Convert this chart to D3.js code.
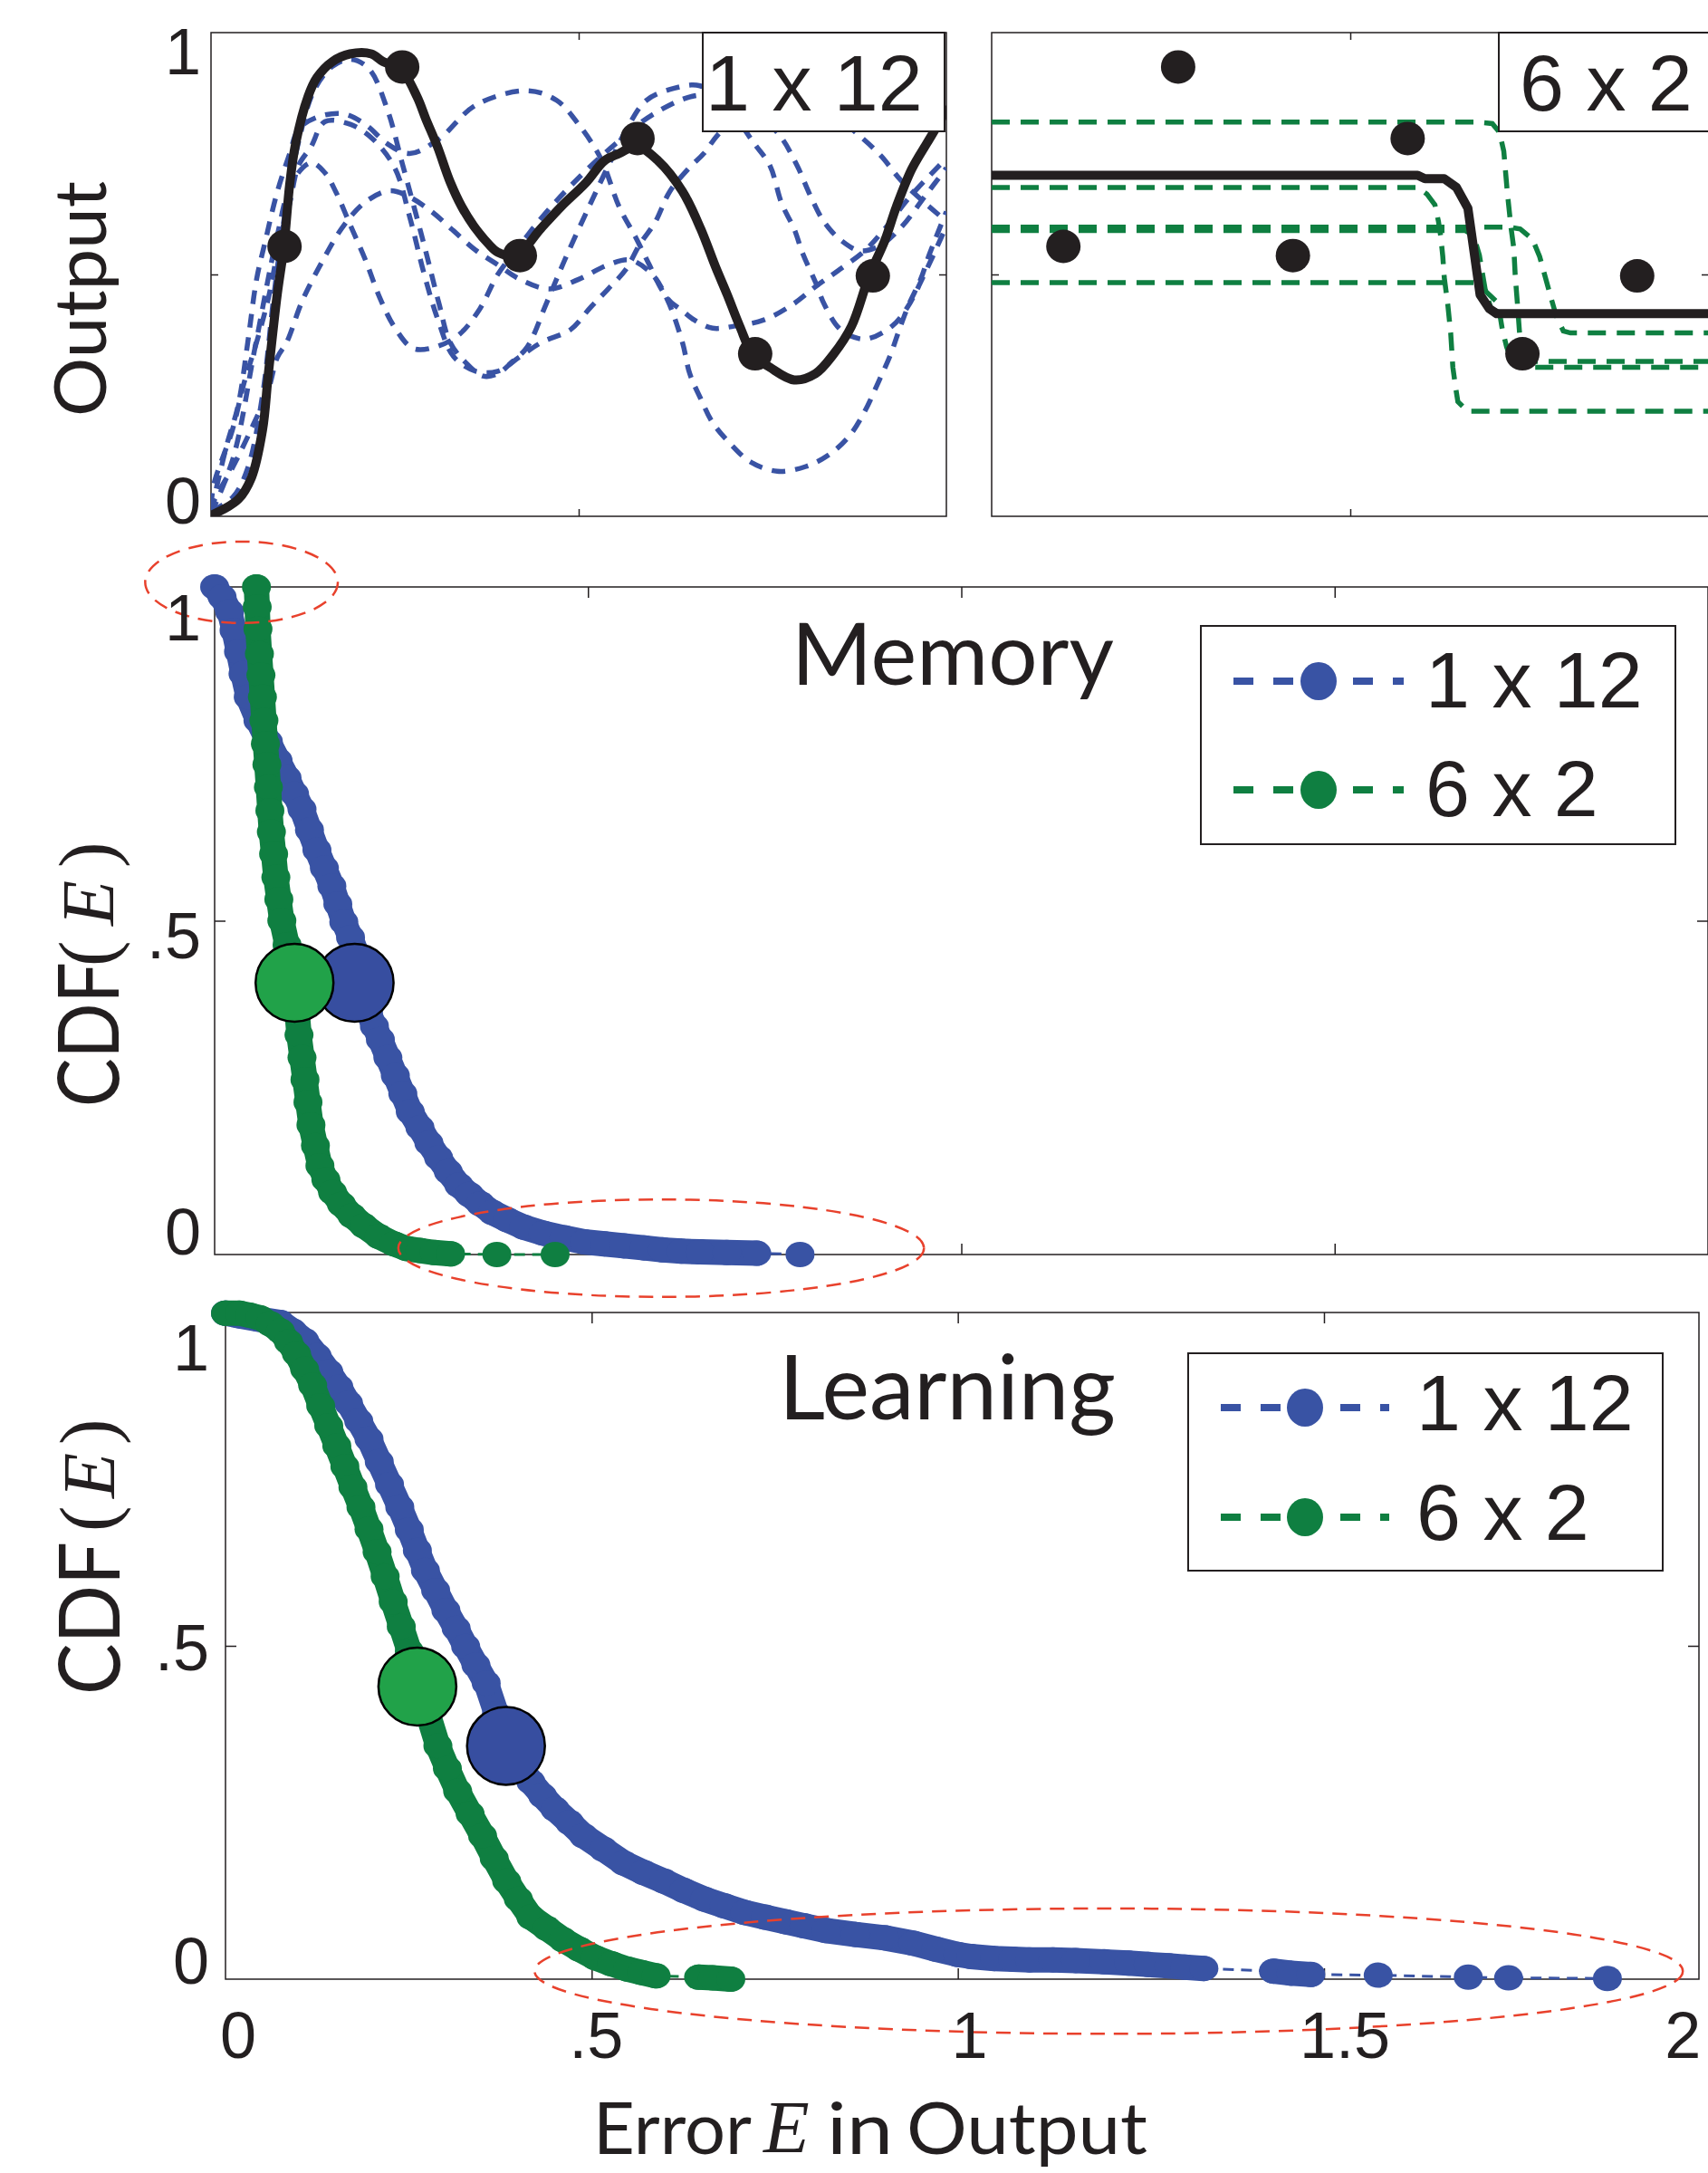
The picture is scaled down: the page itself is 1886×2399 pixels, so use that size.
<!DOCTYPE html>
<html>
<head>
<meta charset="utf-8">
<script src="https://cdn.jsdelivr.net/npm/d3@7"></script>
<style>
body{margin:0;background:#fff}
svg{display:block}
</style>
</head>
<body>
<svg id="fig" width="1886" height="2399"></svg>
<script>
// ---- data ----
var sampleX = [0.1, 0.26, 0.42, 0.58, 0.74, 0.9]
var sampleY = [0.558, 0.929, 0.539, 0.781, 0.336, 0.497]

// best 1 x 12 fit (solid) and the other restarts (dashed)
var best1x12 = [[0,0.002],[0.037,0.035],[0.055,0.08],[0.07,0.178],[0.078,0.295],[0.09,0.458],[0.099,0.556],[0.107,0.686],[0.115,0.77],[0.132,0.868],[0.144,0.907],[0.165,0.94],[0.189,0.956],[0.218,0.956],[0.234,0.94],[0.257,0.927],[0.28,0.868],[0.292,0.822],[0.308,0.764],[0.325,0.692],[0.341,0.64],[0.357,0.601],[0.378,0.562],[0.39,0.546],[0.415,0.539],[0.448,0.594],[0.476,0.64],[0.51,0.69],[0.535,0.735],[0.555,0.75],[0.579,0.765],[0.608,0.735],[0.641,0.672],[0.666,0.594],[0.686,0.516],[0.702,0.458],[0.719,0.393],[0.737,0.334],[0.76,0.308],[0.793,0.282],[0.822,0.295],[0.846,0.334],[0.871,0.393],[0.895,0.497],[0.916,0.569],[0.932,0.64],[0.953,0.718],[0.973,0.77],[0.986,0.803],[1.0,0.84]]
var runA1x12 = [[0,0.01],[0.03,0.04],[0.05,0.1],[0.07,0.25],[0.085,0.45],[0.1,0.62],[0.12,0.78],[0.14,0.88],[0.165,0.93],[0.19,0.945],[0.215,0.925],[0.24,0.84],[0.26,0.73],[0.29,0.56],[0.31,0.44],[0.325,0.36],[0.345,0.32],[0.37,0.29],[0.39,0.295],[0.41,0.32],[0.43,0.35],[0.456,0.44],[0.481,0.53],[0.514,0.64],[0.542,0.73],[0.565,0.8],[0.592,0.86],[0.63,0.885],[0.665,0.89],[0.7,0.85],[0.739,0.77],[0.76,0.725],[0.776,0.647],[0.793,0.594],[0.805,0.542],[0.822,0.484],[0.834,0.438],[0.854,0.389],[0.875,0.37],[0.893,0.367],[0.926,0.393],[0.947,0.432],[0.97,0.5],[1.0,0.6]]
var runB1x12 = [[0,0.01],[0.021,0.145],[0.037,0.23],[0.05,0.36],[0.062,0.49],[0.074,0.57],[0.09,0.67],[0.107,0.75],[0.119,0.8],[0.144,0.825],[0.18,0.832],[0.21,0.81],[0.24,0.77],[0.27,0.75],[0.31,0.78],[0.36,0.85],[0.43,0.88],[0.47,0.86],[0.5,0.81],[0.53,0.74],[0.555,0.64],[0.577,0.578],[0.596,0.52],[0.612,0.471],[0.624,0.445],[0.641,0.425],[0.657,0.406],[0.682,0.389],[0.711,0.393],[0.752,0.406],[0.791,0.438],[0.824,0.477],[0.852,0.507],[0.889,0.549],[0.916,0.594],[0.95,0.66],[1.0,0.74]]
var runC1x12 = [[0,0.01],[0.005,0.035],[0.029,0.1],[0.054,0.178],[0.078,0.262],[0.09,0.328],[0.103,0.36],[0.124,0.445],[0.152,0.529],[0.18,0.6],[0.21,0.65],[0.243,0.673],[0.27,0.66],[0.3,0.63],[0.33,0.59],[0.36,0.55],[0.39,0.52],[0.42,0.49],[0.46,0.47],[0.5,0.49],[0.54,0.52],[0.57,0.53],[0.6,0.5],[0.62,0.45],[0.641,0.36],[0.651,0.295],[0.666,0.243],[0.682,0.194],[0.705,0.152],[0.733,0.113],[0.77,0.093],[0.809,0.103],[0.842,0.129],[0.869,0.168],[0.889,0.217],[0.908,0.279],[0.924,0.334],[0.936,0.386],[0.949,0.438],[0.965,0.49],[0.977,0.542],[1.0,0.63]]
var runD1x12 = [[0,0.005],[0.03,0.12],[0.06,0.35],[0.09,0.58],[0.11,0.69],[0.136,0.731],[0.155,0.71],[0.17,0.67],[0.19,0.6],[0.21,0.53],[0.23,0.45],[0.25,0.39],[0.275,0.347],[0.305,0.35],[0.337,0.375],[0.366,0.43],[0.39,0.5],[0.42,0.56],[0.451,0.62],[0.5,0.7],[0.55,0.77],[0.6,0.83],[0.66,0.87],[0.72,0.86],[0.772,0.79],[0.797,0.725],[0.815,0.663],[0.834,0.608],[0.858,0.569],[0.883,0.549],[0.91,0.56],[0.94,0.6],[0.97,0.66],[1.0,0.72]]
var runE1x12 = [[0,0.02],[0.004,0.067],[0.029,0.178],[0.045,0.276],[0.062,0.36],[0.078,0.451],[0.095,0.581],[0.107,0.647],[0.119,0.725],[0.136,0.764],[0.155,0.816],[0.19,0.81],[0.22,0.78],[0.25,0.72],[0.27,0.62],[0.29,0.5],[0.31,0.4],[0.33,0.33],[0.36,0.3],[0.39,0.3],[0.42,0.33],[0.45,0.36],[0.489,0.386],[0.515,0.43],[0.54,0.47],[0.564,0.51],[0.583,0.562],[0.604,0.608],[0.624,0.672],[0.65,0.72],[0.67,0.75],[0.69,0.79],[0.74,0.86],[0.79,0.88],[0.84,0.84],[0.875,0.796],[0.91,0.747],[0.938,0.695],[0.967,0.653],[1.0,0.61]]

// best 6 x 2 fit (solid) and the other restarts (dashed)
var best6x2 = [[0,0.705],[0.594,0.705],[0.604,0.698],[0.631,0.698],[0.648,0.68],[0.664,0.637],[0.681,0.458],[0.694,0.429],[0.704,0.419],[1,0.419]]
var runA6x2 = [[0,0.815],[0.678,0.815],[0.698,0.812],[0.708,0.794],[0.714,0.755],[0.719,0.669],[0.724,0.598],[0.728,0.554],[0.73,0.497],[0.733,0.44],[0.736,0.379],[0.741,0.335],[0.757,0.308],[1,0.308]]
var runB6x2 = [[0,0.68],[0.594,0.68],[0.607,0.666],[0.618,0.644],[0.623,0.609],[0.626,0.58],[0.629,0.537],[0.631,0.494],[0.636,0.437],[0.64,0.379],[0.643,0.308],[0.647,0.265],[0.65,0.237],[0.664,0.217],[1,0.217]]
var runC6x2 = [[0,0.598],[0.72,0.598],[0.737,0.594],[0.754,0.573],[0.764,0.537],[0.772,0.494],[0.78,0.451],[0.787,0.415],[0.797,0.383],[0.807,0.379],[1,0.379]]
var runD6x2 = [[0,0.591],[0.66,0.591],[0.672,0.58],[0.68,0.54],[0.688,0.47],[0.696,0.43],[0.71,0.42],[1,0.42]]
var runE6x2 = [[0,0.483],[0.674,0.483],[0.684,0.472],[0.704,0.444],[0.708,0.422],[0.712,0.386],[0.718,0.35],[0.724,0.328],[0.737,0.32],[1,0.32]]

// CDF of error E: [E, CDF]
var memory1x12 = [[0,1.0],[0.01,0.985],[0.02,0.963],[0.026,0.935],[0.032,0.903],[0.038,0.87],[0.045,0.835],[0.058,0.8],[0.072,0.768],[0.085,0.74],[0.097,0.714],[0.107,0.69],[0.117,0.667],[0.127,0.636],[0.137,0.606],[0.147,0.579],[0.157,0.552],[0.165,0.525],[0.173,0.498],[0.182,0.475],[0.19,0.451],[0.198,0.41],[0.206,0.363],[0.214,0.342],[0.222,0.322],[0.232,0.295],[0.242,0.268],[0.252,0.241],[0.262,0.214],[0.275,0.19],[0.287,0.167],[0.3,0.145],[0.313,0.124],[0.327,0.104],[0.341,0.09],[0.356,0.076],[0.372,0.063],[0.392,0.052],[0.414,0.041],[0.44,0.032],[0.468,0.025],[0.495,0.019],[0.522,0.016],[0.548,0.013],[0.575,0.01],[0.6,0.007],[0.625,0.005],[0.65,0.004],[0.686,0.003],[0.726,0.002],[0.784,0.0]]
var memory6x2 = [[0.056,1.0],[0.057,0.97],[0.058,0.937],[0.06,0.9],[0.062,0.868],[0.064,0.835],[0.066,0.8],[0.068,0.765],[0.07,0.734],[0.072,0.7],[0.074,0.665],[0.076,0.633],[0.079,0.6],[0.082,0.565],[0.086,0.532],[0.09,0.5],[0.097,0.464],[0.102,0.435],[0.107,0.407],[0.11,0.37],[0.113,0.329],[0.117,0.295],[0.121,0.262],[0.125,0.228],[0.129,0.194],[0.135,0.163],[0.141,0.133],[0.149,0.112],[0.158,0.093],[0.17,0.075],[0.184,0.058],[0.2,0.043],[0.22,0.027],[0.24,0.016],[0.257,0.009],[0.275,0.006],[0.294,0.003],[0.316,0.001],[0.378,0.0],[0.456,0.0]]
var learning1x12 = [[0,0.999],[0.019,0.995],[0.045,0.99],[0.075,0.985],[0.092,0.972],[0.108,0.958],[0.125,0.935],[0.141,0.911],[0.155,0.888],[0.168,0.864],[0.182,0.837],[0.196,0.81],[0.21,0.776],[0.224,0.742],[0.238,0.708],[0.251,0.674],[0.262,0.643],[0.273,0.613],[0.287,0.583],[0.301,0.553],[0.315,0.526],[0.328,0.499],[0.342,0.471],[0.356,0.444],[0.37,0.398],[0.384,0.35],[0.4,0.323],[0.417,0.296],[0.433,0.275],[0.45,0.255],[0.47,0.235],[0.489,0.215],[0.516,0.195],[0.544,0.174],[0.571,0.16],[0.599,0.147],[0.626,0.133],[0.654,0.12],[0.681,0.11],[0.709,0.1],[0.737,0.093],[0.765,0.086],[0.79,0.08],[0.82,0.073],[0.86,0.067],[0.9,0.062],[0.939,0.054],[0.97,0.045],[1.0,0.037],[1.018,0.034],[1.05,0.031],[1.075,0.03],[1.098,0.029],[1.13,0.029],[1.161,0.028],[1.2,0.026],[1.233,0.024],[1.26,0.022],[1.288,0.02],[1.31,0.018],[1.336,0.016],[1.431,0.012],[1.455,0.009],[1.482,0.007],[1.574,0.006],[1.697,0.003],[1.752,0.002],[1.887,0.001]]
var learning6x2 = [[0,0.999],[0.019,0.999],[0.033,0.996],[0.047,0.992],[0.061,0.983],[0.075,0.972],[0.086,0.956],[0.097,0.938],[0.108,0.915],[0.119,0.891],[0.13,0.86],[0.141,0.83],[0.152,0.8],[0.163,0.769],[0.174,0.738],[0.185,0.708],[0.196,0.675],[0.207,0.641],[0.218,0.604],[0.229,0.566],[0.24,0.529],[0.251,0.492],[0.262,0.452],[0.269,0.426],[0.276,0.4],[0.29,0.35],[0.303,0.316],[0.317,0.282],[0.334,0.248],[0.351,0.215],[0.367,0.181],[0.384,0.147],[0.4,0.12],[0.417,0.093],[0.439,0.076],[0.461,0.059],[0.483,0.045],[0.505,0.032],[0.527,0.023],[0.549,0.015],[0.568,0.01],[0.588,0.005],[0.646,0.003],[0.665,0.002],[0.69,0.0]]

// median markers
var memoryMid1x12 = [0.1875, 0.407]
var memoryMid6x2 = [0.107, 0.407]
var learningMid1x12 = [0.383, 0.35]
var learningMid6x2 = [0.262, 0.439]

// highlighted regions: [E centre, CDF centre, E radius, CDF radius]
var memoryRings = [[0.036, 1.007, 0.129, 0.061], [0.598, 0.0095, 0.352, 0.073]]
var learningRings = [[1.206, 0.012, 0.784, 0.094]]

var seriesNames = ["1 x 12", "6 x 2"]
var outTicks = [0, 0.5, 1]
var outTickLabels = ["0", "", "1"]
var cdfTicks = [0, 0.5, 1]
var cdfTickLabels = ["0", ".5", "1"]
var errTicks = [0, 0.5, 1, 1.5, 2]
var errTickLabels = ["0", ".5", "1", "1.5", "2"]

// ---- styles / layout ----
var ink = "#231f20", blue = "#3953a4", green = "#0f7f41", red = "#e8412c"
var bigBlue = "#374ea0", bigGreen = "#21a249"
var helv = "'Liberation Sans', Arial, Helvetica, sans-serif"
var humanist = "Lato, 'Open Sans', sans-serif"
var serif = "'Liberation Serif', 'Times New Roman', serif"

var svg = d3.select("#fig")

function make_panel(name, box, xdom, xticks, yticks, tickLen){
	var x = d3.scaleLinear().domain(xdom).range([box.left, box.right])
	var y = d3.scaleLinear().domain([0, 1]).range([box.bottom, box.top])
	var g = svg.append("g").attr("id", name)
	svg.append("clipPath").attr("id", "clip-" + name).append("rect")
		.attr("x", box.left).attr("y", box.top)
		.attr("width", box.right - box.left).attr("height", box.bottom - box.top)
	var ax = g.append("g")
	ax.append("g").attr("transform", "translate(0," + box.bottom + ")")
		.call(d3.axisBottom(x).tickValues(xticks).tickSize(-tickLen).tickFormat(""))
	ax.append("g").attr("transform", "translate(0," + box.top + ")")
		.call(d3.axisTop(x).tickValues(xticks).tickSize(-tickLen).tickFormat(""))
	ax.append("g").attr("transform", "translate(" + box.left + ",0)")
		.call(d3.axisLeft(y).tickValues(yticks).tickSize(-tickLen).tickFormat(""))
	ax.append("g").attr("transform", "translate(" + box.right + ",0)")
		.call(d3.axisRight(y).tickValues(yticks).tickSize(-tickLen).tickFormat(""))
	ax.selectAll(".domain").remove()
	ax.selectAll("line").attr("stroke", ink).attr("stroke-width", 1.5)
	g.append("rect")
		.attr("x", box.left).attr("y", box.top)
		.attr("width", box.right - box.left).attr("height", box.bottom - box.top)
		.attr("fill", "none").attr("stroke", ink).attr("stroke-width", 1.5)
	var data = g.append("g").attr("clip-path", "url(#clip-" + name + ")")
	return {g: g, data: data, x: x, y: y, box: box}
}

function y_tick_labels(p, ticks, labels, anchorX, dys){
	p.g.selectAll(null).data(ticks).enter().append("text")
		.attr("x", anchorX)
		.attr("y", (d, i) => p.y(d) + dys[i])
		.attr("text-anchor", "end")
		.attr("font-family", helv).attr("font-size", 72).attr("fill", ink)
		.text((d, i) => labels[i])
}

function draw_fits(p, runs, best, color, dash, curve){
	var line = d3.line().x(d => p.x(d[0])).y(d => p.y(d[1])).curve(curve)
	p.data.selectAll(null).data(runs).enter().append("path")
		.attr("d", line).attr("fill", "none")
		.attr("stroke", color).attr("stroke-width", 5.5)
		.attr("stroke-dasharray", dash)
	p.data.append("path").attr("d", line(best)).attr("fill", "none")
		.attr("stroke", ink).attr("stroke-width", 10)
		.attr("stroke-linejoin", "round").attr("stroke-linecap", "round")
	p.g.selectAll(null).data(sampleX).enter().append("ellipse")
		.attr("cx", d => p.x(d)).attr("cy", (d, i) => p.y(sampleY[i]))
		.attr("rx", 19).attr("ry", 18.5).attr("fill", ink)
}

function label_box(x, y, w, h, txt, tx){
	svg.append("rect").attr("x", x).attr("y", y).attr("width", w).attr("height", h)
		.attr("fill", "#fff").attr("stroke", ink).attr("stroke-width", 2)
	svg.append("text").attr("x", tx).attr("y", y + 86)
		.attr("font-family", helv).attr("font-size", 88).attr("fill", ink).text(txt)
}

function draw_cdf(p, pts, color){
	var line = d3.line().x(d => p.x(d[0])).y(d => p.y(d[1]))
	p.g.append("path").attr("d", line(pts)).attr("fill", "none")
		.attr("stroke", color).attr("stroke-width", 3).attr("stroke-dasharray", "12,8")
	// neighbouring markers that overlap read as one continuous band
	var runs = [], cur = [pts[0]]
	for(var i = 1; i < pts.length; i++){
		var a = pts[i-1], b = pts[i]
		var dist = Math.hypot(p.x(b[0]) - p.x(a[0]), p.y(b[1]) - p.y(a[1]))
		if(dist < 40){ cur.push(b) } else { runs.push(cur); cur = [b] }
	}
	runs.push(cur)
	p.g.selectAll(null).data(runs.filter(r => r.length > 1)).enter().append("path")
		.attr("d", line).attr("fill", "none").attr("stroke", color)
		.attr("stroke-width", 28).attr("stroke-linecap", "round").attr("stroke-linejoin", "round")
	p.g.selectAll(null).data(pts).enter().append("ellipse")
		.attr("cx", d => p.x(d[0])).attr("cy", d => p.y(d[1]))
		.attr("rx", 16).attr("ry", 14).attr("fill", color)
}

function big_marker(p, pt, color){
	p.g.append("circle").attr("cx", p.x(pt[0])).attr("cy", p.y(pt[1])).attr("r", 43)
		.attr("fill", color).attr("stroke", "#000").attr("stroke-width", 2.5)
}

function rings(p, list){
	p.g.selectAll(null).data(list).enter().append("ellipse")
		.attr("cx", d => p.x(d[0])).attr("cy", d => p.y(d[1]))
		.attr("rx", d => p.x(d[0] + d[2]) - p.x(d[0]))
		.attr("ry", d => p.y(d[1] - d[3]) - p.y(d[1]))
		.attr("fill", "none").attr("stroke", red).attr("stroke-width", 2.5)
		.attr("stroke-dasharray", "16,10")
}

function legend(x, y, w, h, rows, lineX1, lineX2, textX, baseDy){
	var lg = svg.append("g")
	lg.append("rect").attr("x", x).attr("y", y).attr("width", w).attr("height", h)
		.attr("fill", "#fff").attr("stroke", ink).attr("stroke-width", 2)
	var colors = [blue, green]
	seriesNames.forEach(function(name, i){
		lg.append("line").attr("x1", lineX1).attr("x2", lineX2)
			.attr("y1", rows[i]).attr("y2", rows[i])
			.attr("stroke", colors[i]).attr("stroke-width", 8).attr("stroke-dasharray", "22,22")
		lg.append("ellipse").attr("cx", (lineX1 + lineX2) / 2).attr("cy", rows[i])
			.attr("rx", 20).attr("ry", 21).attr("fill", colors[i])
		lg.append("text").attr("x", textX).attr("y", rows[i] + baseDy)
			.attr("font-family", helv).attr("font-size", 88).attr("fill", ink).text(name)
	})
}

function cdf_label(px, py, pieces){
	var t = svg.append("g").attr("transform", "translate(" + px + "," + py + ") rotate(-90)")
	t.append("text").attr("x", 0).attr("y", 0)
		.attr("font-family", humanist).attr("font-size", 93).attr("fill", ink)
		.attr("textLength", pieces[0]).attr("lengthAdjust", "spacingAndGlyphs").text("CDF")
	t.append("text").attr("x", pieces[1]).attr("y", -6)
		.attr("font-family", serif).attr("font-size", 86).attr("fill", ink).text("(")
	t.append("text").attr("x", pieces[2]).attr("y", -6)
		.attr("font-family", serif).attr("font-style", "italic").attr("font-size", 82).attr("fill", ink).text("E")
	t.append("text").attr("x", pieces[3]).attr("y", -6)
		.attr("font-family", serif).attr("font-size", 86).attr("fill", ink).text(")")
}

// ---- top row: sample fits ----
var curveTop = d3.curveCatmullRom.alpha(0.5)
var pTL = make_panel("fit1x12", {left: 233, right: 1045, top: 36, bottom: 570}, [0, 1], [0.5], [0.5], 8)
draw_fits(pTL, [runA1x12, runB1x12, runC1x12, runD1x12, runE1x12], best1x12, blue, "15,11", curveTop)
y_tick_labels(pTL, outTicks, outTickLabels, 222, [8, 0, 46])
label_box(776, 36, 267, 109, seriesNames[0], 779)

var pTR = make_panel("fit6x2", {left: 1095, right: 1887, top: 36, bottom: 570}, [0, 1], [0.5], [0.5], 8)
draw_fits(pTR, [runA6x2, runB6x2, runC6x2, runD6x2, runE6x2], best6x2, green, "20,12", d3.curveLinear)
label_box(1655, 36, 260, 109, seriesNames[1], 1678)

svg.append("text").attr("transform", "translate(117,460) rotate(-90)")
	.attr("font-family", humanist).attr("font-size", 80).attr("fill", ink)
	.attr("textLength", 260).attr("lengthAdjust", "spacingAndGlyphs").text("Output")

// ---- memory CDF ----
var pMem = make_panel("memory", {left: 237, right: 1886, top: 648, bottom: 1385}, [0, 2], [0.5, 1, 1.5], [0.5], 12)
draw_cdf(pMem, memory1x12, blue)
draw_cdf(pMem, memory6x2, green)
big_marker(pMem, memoryMid1x12, bigBlue)
big_marker(pMem, memoryMid6x2, bigGreen)
rings(pMem, memoryRings)
y_tick_labels(pMem, cdfTicks, cdfTickLabels, 222, [0, 41, 59])
svg.append("text").attr("x", 874).attr("y", 756)
	.attr("font-family", humanist).attr("font-size", 95).attr("fill", ink)
	.attr("textLength", 356).attr("lengthAdjust", "spacingAndGlyphs").text("Memory")
legend(1326, 691, 524, 241, [752, 872], 1362, 1550, 1574, 29)
cdf_label(131, 1222, [160, 155, 200, 264])

// ---- learning CDF ----
var pLrn = make_panel("learning", {left: 249, right: 1876, top: 1449, bottom: 2185}, [0, 2.012], [0.5, 1, 1.5], [0.5], 12)
draw_cdf(pLrn, learning1x12, blue)
draw_cdf(pLrn, learning6x2, green)
big_marker(pLrn, learningMid1x12, bigBlue)
big_marker(pLrn, learningMid6x2, bigGreen)
rings(pLrn, learningRings)
y_tick_labels(pLrn, cdfTicks, cdfTickLabels, 231, [5, 27, 64])
svg.append("text").attr("x", 860).attr("y", 1567)
	.attr("font-family", humanist).attr("font-size", 98).attr("fill", ink)
	.attr("textLength", 372).attr("lengthAdjust", "spacingAndGlyphs").text("Learning")
legend(1312, 1494, 524, 240, [1554, 1675], 1348, 1534, 1564, 25)
cdf_label(132, 1871, [169, 180, 217, 276])

// last label kept inside the page edge
var xNudge = [14, 5, 13, 23, -8]
svg.selectAll(null).data(errTicks).enter().append("text")
	.attr("x", (d, i) => pLrn.x(d) + xNudge[i]).attr("y", 2272)
	.attr("text-anchor", "middle")
	.attr("font-family", helv).attr("font-size", 72).attr("fill", ink)
	.text((d, i) => errTickLabels[i])

// x axis title: Error E in Output
var xt = svg.append("g")
xt.append("text").attr("x", 655).attr("y", 2378).attr("font-family", humanist).attr("font-size", 80)
	.attr("fill", ink).attr("textLength", 175).attr("lengthAdjust", "spacingAndGlyphs").text("Error")
xt.append("text").attr("x", 843).attr("y", 2376).attr("font-family", serif).attr("font-style", "italic")
	.attr("font-size", 83).attr("fill", ink).text("E")
xt.append("text").attr("x", 913).attr("y", 2378).attr("font-family", humanist).attr("font-size", 80)
	.attr("fill", ink).attr("textLength", 73).attr("lengthAdjust", "spacingAndGlyphs").text("in")
xt.append("text").attr("x", 1001).attr("y", 2378).attr("font-family", humanist).attr("font-size", 80)
	.attr("fill", ink).attr("textLength", 266).attr("lengthAdjust", "spacingAndGlyphs").text("Output")
</script>
</body>
</html>
